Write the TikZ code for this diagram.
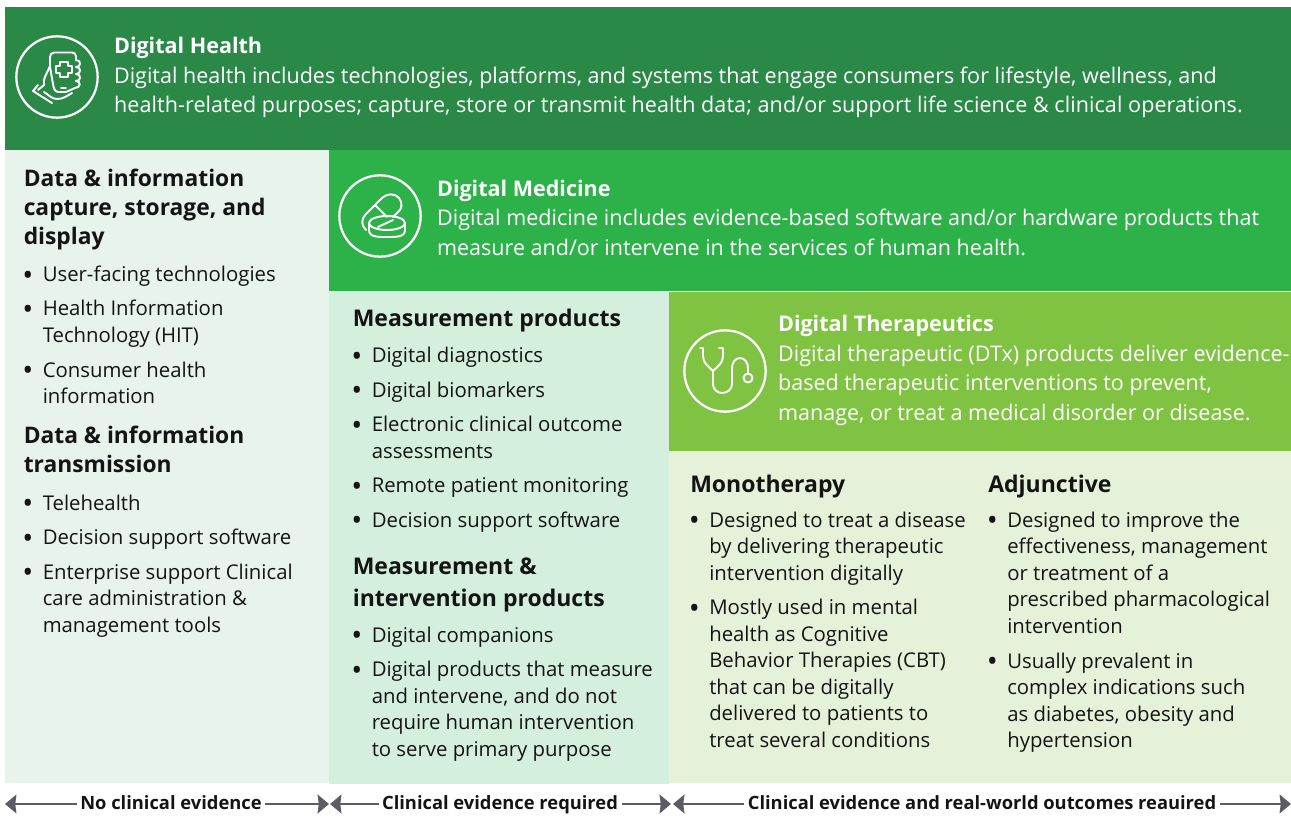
\documentclass[tikz,border=0pt]{standalone}
\usepackage{fontspec}
\setmainfont{Open Sans}
\usetikzlibrary{positioning,arrows.meta}
\definecolor{healthgreen}{HTML}{2A8947}
\definecolor{medgreen}{HTML}{2DB24A}
\definecolor{dtxgreen}{HTML}{80C342}
\definecolor{palegrey}{HTML}{E8F3EC}
\definecolor{palemed}{HTML}{D4EFDD}
\definecolor{paledtx}{HTML}{E5F1D8}
\definecolor{inktext}{HTML}{141414}
\definecolor{arrowgrey}{HTML}{5B5C66}
\newcommand{\bt}{\strut\llap{\raisebox{-2.7pt}{\fontsize{22}{20}\selectfont •}\hspace{7pt}}}
\begin{document}
\begin{tikzpicture}[x=0.75pt,y=-0.75pt,
    head/.style={anchor=west,align=left,inner sep=0pt,text=white,font=\fontsize{16.15}{22.2}\selectfont,
        execute at end node=\strut},
    icon/.style={circle,draw=white,line width=1.7pt,minimum size=61pt,inner sep=0pt},
    glyph/.style={draw=white,line width=1.45pt,line cap=round,line join=round},
    sect/.style={anchor=north west,align=left,inner sep=0pt,text=inktext,font=\fontsize{17.1}{21.8}\bfseries\selectfont,
        execute at end node=\strut},
    sectbig/.style={sect,font=\fontsize{17.25}{24}\bfseries\selectfont},
    item/.style={anchor=north west,align=left,inner sep=0pt,text=inktext,font=\fontsize{15.25}{19.9}\selectfont,
        execute at end node=\strut},
    evlabel/.style={inner sep=2.5pt,text=inktext,text height=11pt,text depth=2.8pt,font=\fontsize{13.75}{16}\bfseries\selectfont},
    evline/.style={arrowgrey,line width=2pt,>={Stealth[length=8.5pt,width=14pt,inset=0.8pt]}},
    ]
    \useasboundingbox (0,0) rectangle (1291,816);

    % panels
    \fill[healthgreen] (5,7) rectangle (1291,150);
    \fill[palegrey] (5,150) rectangle (329,783);
    \fill[medgreen] (329,150) rectangle (1291,291);
    \fill[palemed] (329,291) rectangle (669,784);
    \fill[dtxgreen] (669,292) rectangle (1291,451);
    \fill[paledtx] (669,451) rectangle (1291,783);

    % band headers
    \node [icon] (healthicon) at (57,77) {};
    \node [head, right=11.25pt of healthicon, yshift=-0.25pt] (healthtxt) {\strut\textbf{Digital Health}\\Digital health includes technologies, platforms, and systems that engage consumers for lifestyle, wellness, and\\{\addfontfeature{LetterSpace=0.35}health-related purposes; capture, store or transmit health data; and/or support life science \& clinical operations.}};

    \node [icon] (medicon) at (380,216) {};
    \node [head, right=11.25pt of medicon, yshift=-3pt] (medtxt) {\strut\textbf{Digital Medicine}\\{\addfontfeature{LetterSpace=0.12}Digital medicine includes evidence-based software and/or hardware products that}\\measure and/or intervene in the services of human health.};

    \node [icon] (dtxicon) at (725,371) {};
    \node [head, right=8.25pt of dtxicon, yshift=0.6pt] (dtxtxt) {\strut\textbf{Digital Therapeutics}\\{\addfontfeature{LetterSpace=0.2}Digital therapeutic (DTx) products deliver evidence-}\\based therapeutic interventions to prevent,\\manage, or treat a medical disorder or disease.};

    % phone in hand
    \draw[glyph] (50,67) -- (50,57) to[out=90,in=180] (54,52.5) -- (72,52.5) to[out=0,in=90] (76,56) -- (76,60);
    \draw[glyph] (60,62) -- (68,62) -- (68,66) -- (72,66) -- (72,73) -- (68,73) -- (68,77) -- (60,77) -- (60,73) -- (56,73) -- (56,66) -- (60,66) -- cycle;
    \draw[glyph] (61,88) -- (66,88);
    \draw[glyph] (76,60) to[out=0,in=0,looseness=2] (76,67) to[out=0,in=0,looseness=2] (76,74) to[out=0,in=0,looseness=2] (76,81) to[out=0,in=0,looseness=2] (75,88) -- (66,92) -- (58,92);
    \draw[glyph] (50,66) to[out=-110,in=75] (44,80) -- (44,85) -- (38,90);
    \draw[glyph] (50,67) -- (53,84) to[out=-80,in=170] (58,92);
    \draw[glyph] (38,85) -- (33,91) -- (52,103);
    \draw[glyph] (44,92) to[out=-30,in=180] (57,99) to[out=0,in=-150] (72,93);

    % pills
    \draw[glyph] (366,230) .. controls (361,225) and (361,219) .. (366,214) -- (381,199) .. controls (387,193) and (395,193) .. (399,198) .. controls (403,203) and (402,209) .. (398,212) -- (393,217);
    \draw[glyph] (375,205) -- (387,217);
    \draw[glyph] (387,223) ellipse (18 and 7);
    \draw[glyph] (369,223) -- (369,230) to[out=-90,in=180] (387,237) to[out=0,in=-90] (405,230) -- (405,223);
    \draw[glyph] (378,227) -- (393,220);

    % stethoscope
    \draw[glyph] (700,348) -- (703,348) -- (703,356) to[out=-90,in=135] (713,371) to[out=45,in=-90] (723,356) -- (723,348) -- (719,348);
    \draw[glyph] (713,371) -- (713,384) to[out=-90,in=180] (722,393) to[out=0,in=-90] (732,384) -- (732,368) to[out=90,in=180] (740,358) to[out=0,in=90] (748,368) -- (748,373);
    \draw[glyph] (748,378) circle (4.5);

    % left column
    \node [sect] (dataA) at (23.5,165.5) {\strut Data \& information\\capture, storage, and\\display};
    \node [below=7pt of dataA.south west, xshift=14.25pt, item] (userB) {\bt User-facing technologies};
    \node [below=5.6pt of userB.south west, item] (hitB) {\bt Health Information\\Technology (HIT)};
    \node [below=5.6pt of hitB.south west, item] (consB) {\bt Consumer health\\information};
    \node [sect] (dataC) at (23.5,422.5) {\strut Data \& information\\transmission};
    \node [below=7.65pt of dataC.south west, xshift=14.25pt, item] (teleD) {\bt Telehealth};
    \node [below=5.6pt of teleD.south west, item] (decD) {\bt Decision support software};
    \node [below=5.6pt of decD.south west, item] (entD) {\bt Enterprise support Clinical\\care administration \&\\management tools};

    % middle column
    \node [sectbig] (measA) at (352.5,304) {\strut Measurement products};
    \node [below=5.5pt of measA.south west, xshift=14.25pt, item] (diagB) {\bt Digital diagnostics};
    \node [below=5.6pt of diagB.south west, item] (bioB) {\bt Digital biomarkers};
    \node [below=5.6pt of bioB.south west, item] (ecoaB) {\bt Electronic clinical outcome\\assessments};
    \node [below=5.6pt of ecoaB.south west, item] (rpmB) {\bt Remote patient monitoring};
    \node [below=5.6pt of rpmB.south west, item] (dssB) {\bt Decision support software};
    \node [sectbig] (measC) at (352.5,552) {\strut Measurement \&\\intervention products};
    \node [below=5.05pt of measC.south west, xshift=14.25pt, item] (compD) {\bt Digital companions};
    \node [below=5.6pt of compD.south west, item] (prodD) {\bt Digital products that measure\\and intervene, and do not\\require human intervention\\to serve primary purpose};

    % right columns
    \node [sectbig] (monoA) at (690,470) {\strut Monotherapy};
    \node [below=4.25pt of monoA.south west, xshift=14.25pt, item] (monoB) {\bt Designed to treat a disease\\by delivering therapeutic\\intervention digitally};
    \node [below=5.6pt of monoB.south west, item] (monoC) {\bt Mostly used in mental\\health as Cognitive\\Behavior Therapies (CBT)\\that can be digitally\\delivered to patients to\\treat several conditions};
    \node [sectbig] (adjA) at (988,470) {\strut Adjunctive};
    \node [below=4.25pt of adjA.south west, xshift=14.25pt, item] (adjB) {\bt Designed to improve the\\effectiveness, management\\or treatment of a\\prescribed pharmacological\\intervention};
    \node [below=5.9pt of adjB.south west, item] (adjC) {\bt Usually prevalent in\\complex indications such\\as diabetes, obesity and\\hypertension};

    % evidence ranges
    \node [evlabel] (noev) at (171,804) {No clinical evidence};
    \node [evlabel] (reqev) at (500,804) {Clinical evidence required};
    \node [evlabel] (rwev) at (982,804) {Clinical evidence and real-world outcomes reauired};
    \coordinate (stopA) at (5,804);
    \coordinate (stopB) at (329,804);
    \coordinate (stopC) at (330,804);
    \coordinate (stopD) at (671,804);
    \coordinate (stopE) at (673,804);
    \coordinate (stopF) at (1291,804);
    \draw[evline,->] (noev) -- (stopA);
    \draw[evline,->] (noev) -- (stopB);
    \draw[evline,->] (reqev) -- (stopC);
    \draw[evline,->] (reqev) -- (stopD);
    \draw[evline,->] (rwev) -- (stopE);
    \draw[evline,->] (rwev) -- (stopF);
\end{tikzpicture}
\end{document}
